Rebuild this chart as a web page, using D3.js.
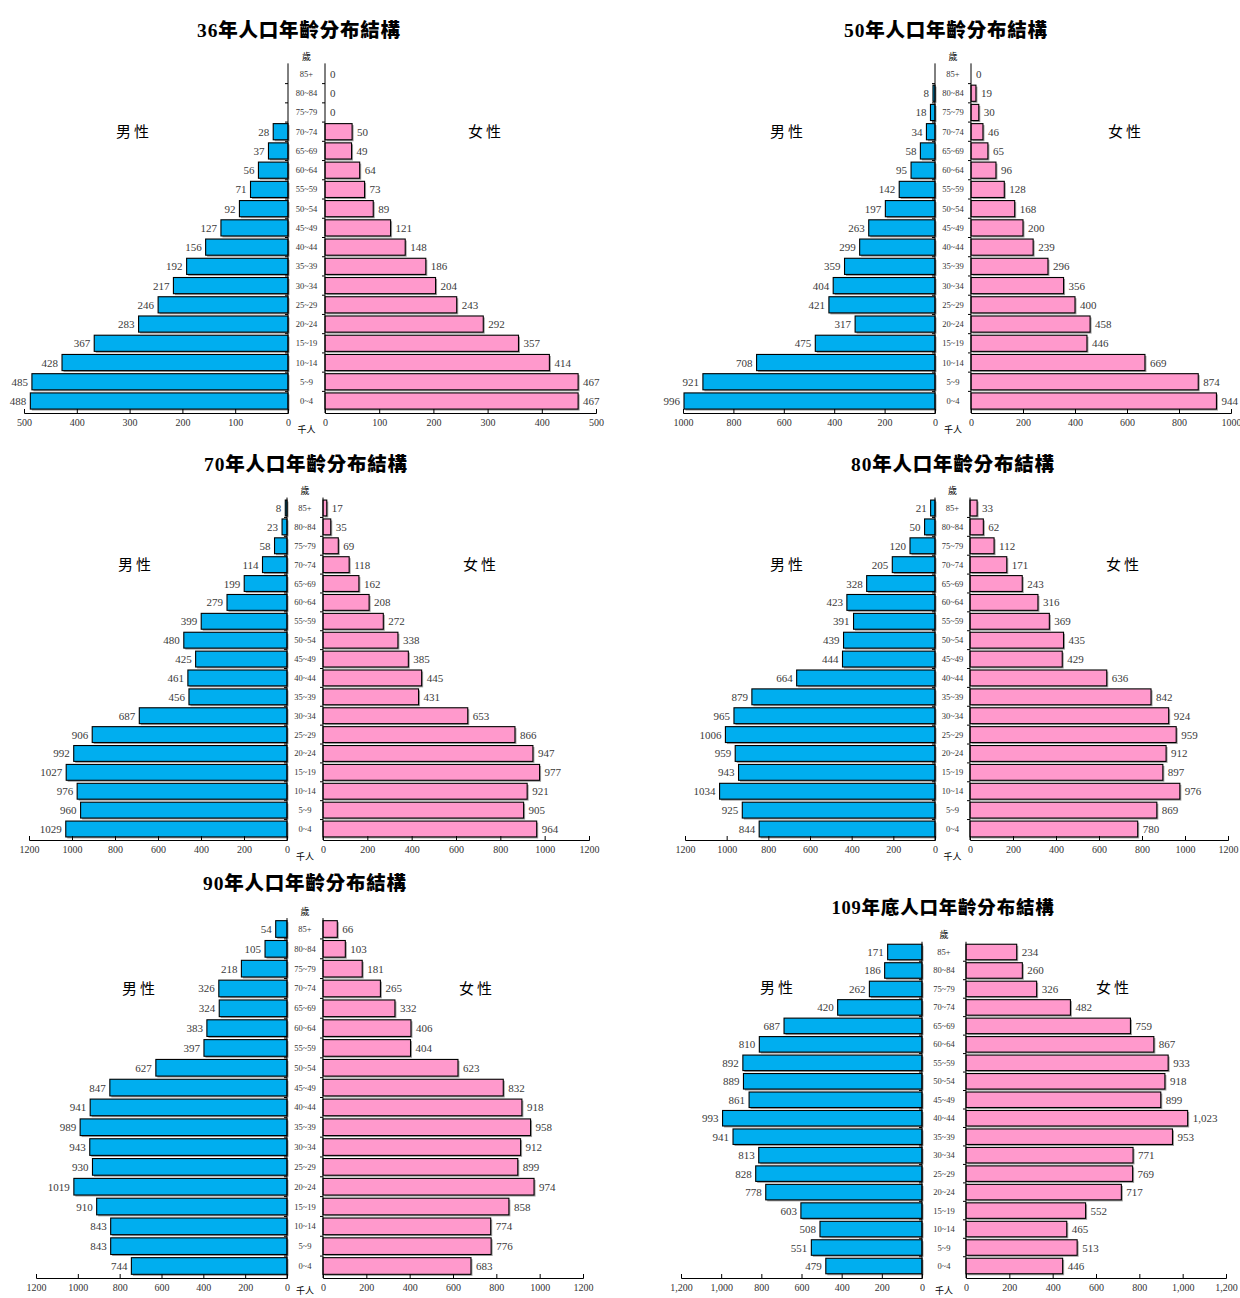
<!DOCTYPE html>
<html>
<head>
<meta charset="utf-8">
<script src="https://cdn.jsdelivr.net/npm/d3@7"></script>
<style>
  body { margin: 0; background: white; }
  text { font-family: "Liberation Serif", "Noto Sans CJK TC", serif; }
</style>
</head>
<body>
<div id="vis"></div>
<script>

// age groups, top row first
var ages = ["85+","80~84","75~79","70~74","65~69","60~64","55~59","50~54","45~49",
            "40~44","35~39","30~34","25~29","20~24","15~19","10~14","5~9","0~4"];

var titles = ["36年人口年齡分布結構","50年人口年齡分布結構","70年人口年齡分布結構",
              "80年人口年齡分布結構","90年人口年齡分布結構","109年底人口年齡分布結構"];

// thousands of people (null = no value shown)
var male36   = [null,null,null,28,37,56,71,92,127,156,192,217,246,283,367,428,485,488];
var female36 = [0,0,0,50,49,64,73,89,121,148,186,204,243,292,357,414,467,467];

var male50   = [null,8,18,34,58,95,142,197,263,299,359,404,421,317,475,708,921,996];
var female50 = [0,19,30,46,65,96,128,168,200,239,296,356,400,458,446,669,874,944];

var male70   = [8,23,58,114,199,279,399,480,425,461,456,687,906,992,1027,976,960,1029];
var female70 = [17,35,69,118,162,208,272,338,385,445,431,653,866,947,977,921,905,964];

var male80   = [21,50,120,205,328,423,391,439,444,664,879,965,1006,959,943,1034,925,844];
var female80 = [33,62,112,171,243,316,369,435,429,636,842,924,959,912,897,976,869,780];

var male90   = [54,105,218,326,324,383,397,627,847,941,989,943,930,1019,910,843,843,744];
var female90 = [66,103,181,265,332,406,404,623,832,918,958,912,899,974,858,774,776,683];

var male109   = [171,186,262,420,687,810,892,889,861,993,941,813,828,778,603,508,551,479];
var female109 = [234,260,326,482,759,867,933,918,899,1023,953,771,769,717,552,465,513,446];

var axisMax = [500, 1000, 1200, 1200, 1200, 1200];
var axisStep = [100, 200, 200, 200, 200, 200];

var width = 1240, height = 1298;

var svg = d3.select("#vis")
  .append("svg")
    .attr("width", width)
    .attr("height", height);

svg.append("rect").attr("width", width).attr("height", height).attr("fill", "white");

// layout of each panel (pixels)
var panels = [
  {title: titles[0], male: male36,  female: female36,  max: axisMax[0], step: axisStep[0],
   lx0: 288, lx1: 24,  rx0: 325, rx1: 596,  yTop: 74,  yBot: 401,  axisY: 413,  titleX: 299, titleY: 30, tSize: 19.5,
   mLab: [134,132], fLab: [486,132], comma: false},
  {title: titles[1], male: male50,  female: female50,  max: axisMax[1], step: axisStep[1],
   lx0: 935, lx1: 683, rx0: 971, rx1: 1231, yTop: 74,  yBot: 401,  axisY: 413,  titleX: 946, titleY: 30, tSize: 19.5,
   mLab: [788,132], fLab: [1126,132], comma: false},
  {title: titles[2], male: male70,  female: female70,  max: axisMax[2], step: axisStep[2],
   lx0: 287, lx1: 29,  rx0: 323, rx1: 589,  yTop: 508, yBot: 829,  axisY: 840,  titleX: 306, titleY: 464, tSize: 19.5,
   mLab: [136,565], fLab: [481,565], comma: false},
  {title: titles[3], male: male80,  female: female80,  max: axisMax[3], step: axisStep[3],
   lx0: 935, lx1: 685, rx0: 970, rx1: 1228, yTop: 508, yBot: 829,  axisY: 840,  titleX: 953, titleY: 464, tSize: 19.5,
   mLab: [788,565], fLab: [1124,565], comma: false},
  {title: titles[4], male: male90,  female: female90,  max: axisMax[4], step: axisStep[4],
   lx0: 287, lx1: 36,  rx0: 323, rx1: 583,  yTop: 929, yBot: 1266, axisY: 1278, titleX: 305, titleY: 883, tSize: 19.5,
   mLab: [140,989], fLab: [477,989], comma: false},
  {title: titles[5], male: male109, female: female109, max: axisMax[5], step: axisStep[5],
   lx0: 922, lx1: 681, rx0: 966, rx1: 1226, yTop: 952, yBot: 1266, axisY: 1278, titleX: 943, titleY: 908, tSize: 18.5,
   mLab: [778,988], fLab: [1114,988], comma: true}
];

panels.forEach(function(p){ drawPyramid(p); });

function drawPyramid(p){

  var g = svg.append("g");

  var xl = d3.scaleLinear().domain([0, p.max]).range([p.lx0, p.lx1]);
  var xr = d3.scaleLinear().domain([0, p.max]).range([p.rx0, p.rx1]);
  var y = d3.scalePoint().domain(ages).range([p.yTop, p.yBot]);
  var bh = y.step() * 0.84;
  var fmt = p.comma ? d3.format(",") : d3.format("d");

  var tickVals = d3.range(0, p.max + 1, p.step);

  // title
  g.append("text")
    .attr("x", p.titleX)
    .attr("y", p.titleY)
    .attr("text-anchor", "middle")
    .attr("dominant-baseline", "central")
    .style("font-size", p.tSize + "px")
    .style("font-weight", "900")
    .style("letter-spacing", "0.8px")
    .style("fill", "black")
    .text(p.title);

  g.append("text")
    .attr("x", p.mLab[0]).attr("y", p.mLab[1])
    .attr("text-anchor", "middle")
    .attr("dominant-baseline", "central")
    .style("font-size", "15px")
    .style("letter-spacing", "3px")
    .text("男性");

  g.append("text")
    .attr("x", p.fLab[0]).attr("y", p.fLab[1])
    .attr("text-anchor", "middle")
    .attr("dominant-baseline", "central")
    .style("font-size", "15px")
    .style("letter-spacing", "3px")
    .text("女性");

  var mid = (p.lx0 + p.rx0) / 2;

  g.append("text")
    .attr("x", mid).attr("y", p.yTop - 17)
    .attr("text-anchor", "middle")
    .attr("dominant-baseline", "central")
    .style("font-size", "9px")
    .text("歲");

  g.append("text")
    .attr("x", mid).attr("y", Math.min(p.axisY + 17, 1291))
    .attr("text-anchor", "middle")
    .attr("dominant-baseline", "central")
    .style("font-size", "9px")
    .text("千人");

  // age labels
  g.selectAll(".age")
    .data(ages)
    .enter()
    .append("text")
    .attr("x", mid)
    .attr("y", function(d){ return y(d); })
    .attr("text-anchor", "middle")
    .attr("dominant-baseline", "central")
    .style("font-size", "8.5px")
    .style("fill", "#333")
    .text(function(d){ return d; });

  var male = ages.map(function(a,i){ return {age: a, v: p.male[i]}; });
  var female = ages.map(function(a,i){ return {age: a, v: p.female[i]}; });

  // shadows
  g.selectAll(".ms")
    .data(male.filter(function(d){ return d.v; }))
    .enter()
    .append("rect")
    .attr("x", function(d){ return xl(d.v) + 1.5; })
    .attr("y", function(d){ return y(d.age) - bh/2 + 1.5; })
    .attr("width", function(d){ return xl(0) - xl(d.v); })
    .attr("height", bh)
    .style("fill", "#a0a0a0");

  g.selectAll(".fs")
    .data(female.filter(function(d){ return d.v; }))
    .enter()
    .append("rect")
    .attr("x", xr(0) + 1.5)
    .attr("y", function(d){ return y(d.age) - bh/2 + 1.5; })
    .attr("width", function(d){ return xr(d.v) - xr(0); })
    .attr("height", bh)
    .style("fill", "#a0a0a0");

  // bars
  g.selectAll(".mbar")
    .data(male.filter(function(d){ return d.v; }))
    .enter()
    .append("rect")
    .attr("x", function(d){ return xl(d.v); })
    .attr("y", function(d){ return y(d.age) - bh/2; })
    .attr("width", function(d){ return xl(0) - xl(d.v); })
    .attr("height", bh)
    .style("fill", "#00AEEF")
    .style("stroke", "black")
    .style("stroke-width", 1.1);

  g.selectAll(".fbar")
    .data(female.filter(function(d){ return d.v; }))
    .enter()
    .append("rect")
    .attr("x", xr(0))
    .attr("y", function(d){ return y(d.age) - bh/2; })
    .attr("width", function(d){ return xr(d.v) - xr(0); })
    .attr("height", bh)
    .style("fill", "#FF99CC")
    .style("stroke", "black")
    .style("stroke-width", 1.1);

  // value labels
  g.selectAll(".mval")
    .data(male.filter(function(d){ return d.v != null; }))
    .enter()
    .append("text")
    .attr("x", function(d){ return xl(d.v) - 4; })
    .attr("y", function(d){ return y(d.age); })
    .attr("text-anchor", "end")
    .attr("dominant-baseline", "central")
    .style("font-size", "11px")
    .style("fill", "#3a3a3a")
    .text(function(d){ return fmt(d.v); });

  g.selectAll(".fval")
    .data(female.filter(function(d){ return d.v != null; }))
    .enter()
    .append("text")
    .attr("x", function(d){ return xr(d.v) + 5; })
    .attr("y", function(d){ return y(d.age); })
    .attr("text-anchor", "start")
    .attr("dominant-baseline", "central")
    .style("font-size", "11px")
    .style("fill", "#3a3a3a")
    .text(function(d){ return fmt(d.v); });

  // vertical axis lines with small ticks between rows
  var vTop = p.yTop - y.step()/2 - 1;
  [p.lx0, p.rx0].forEach(function(x0){
    g.append("line")
      .attr("x1", x0).attr("x2", x0)
      .attr("y1", vTop).attr("y2", p.axisY)
      .style("stroke", "black").style("stroke-width", 1);
    g.selectAll(null)
      .data(ages.slice(1))
      .enter()
      .append("line")
      .attr("x1", x0 - 3).attr("x2", x0)
      .attr("y1", function(d){ return y(d) - y.step()/2; })
      .attr("y2", function(d){ return y(d) - y.step()/2; })
      .style("stroke", "black").style("stroke-width", 1);
  });

  // horizontal axes
  var axL = d3.axisBottom(xl).tickValues(tickVals).tickFormat(fmt)
              .tickSizeInner(-4).tickSizeOuter(-4).tickPadding(6);
  var axR = d3.axisBottom(xr).tickValues(tickVals).tickFormat(fmt)
              .tickSizeInner(-4).tickSizeOuter(-4).tickPadding(6);

  [axL, axR].forEach(function(ax){
    var a = g.append("g")
      .attr("transform", "translate(0," + p.axisY + ")")
      .call(ax);
    a.selectAll("text")
      .style("font-family", "Liberation Serif")
      .style("font-size", "10px")
      .style("fill", "#333");
    a.selectAll("path, line").style("stroke", "black");
  });
}

</script>
</body>
</html>
